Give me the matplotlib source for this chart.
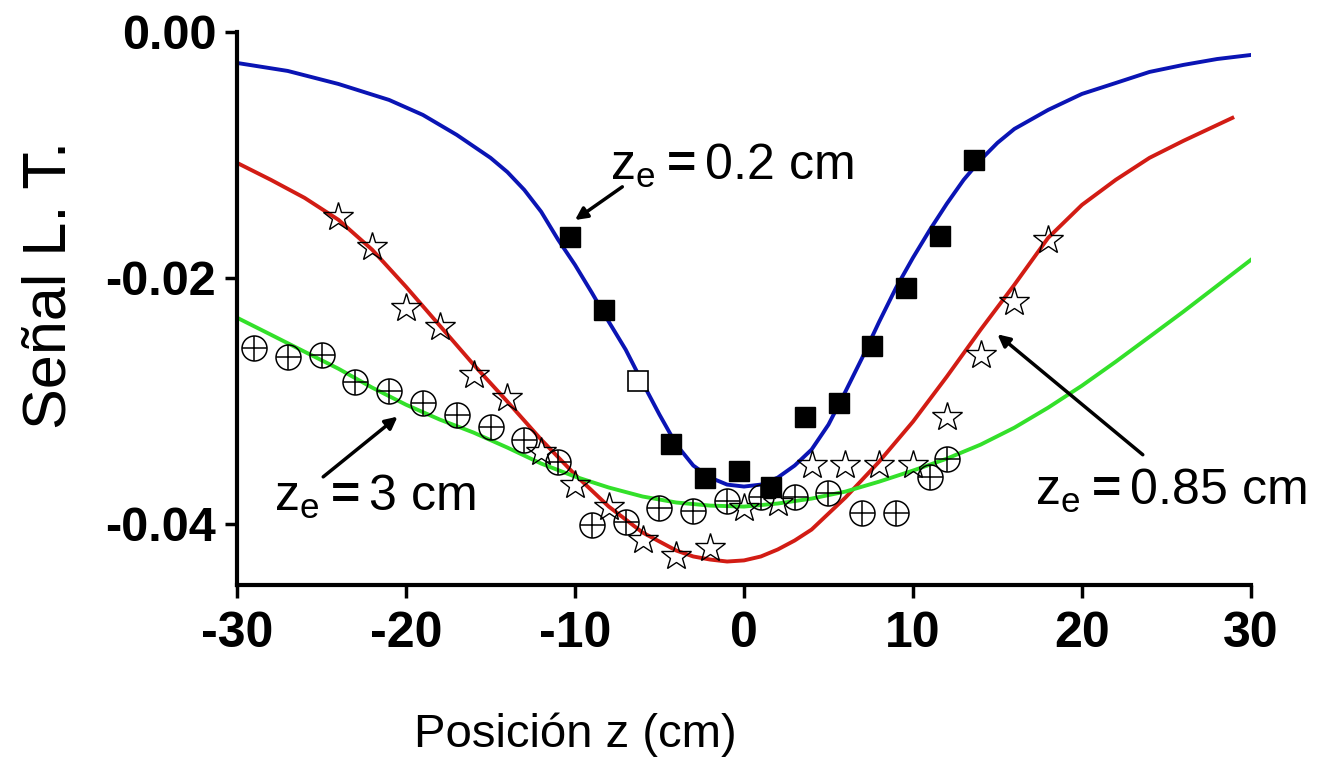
import matplotlib.pyplot as plt
from matplotlib.ticker import FormatStrFormatter

plt.rcParams['font.family'] = ['Liberation Sans', 'DejaVu Sans']
plt.rcParams['axes.unicode_minus'] = False
plt.rcParams['mathtext.fontset'] = 'custom'
plt.rcParams['mathtext.rm'] = 'Liberation Sans'
plt.rcParams['mathtext.bf'] = 'Liberation Sans:bold'

# fitted curves
z_blue = [-30, -27, -24, -21, -19, -17, -15, -14, -13, -12, -11, -10, -9, -8, -7, -6, -5, -4, -3, -2, -1,
          0, 1, 2, 3, 4, 5, 6, 7, 8, 9, 10, 11, 12, 13, 14, 15, 16, 18, 20, 22, 24, 26, 28, 30]
s_blue = [-0.00252, -0.00317, -0.00423, -0.00553, -0.00675, -0.00837, -0.01024, -0.01140, -0.01285,
          -0.01463, -0.01690, -0.01895, -0.02122, -0.02358, -0.02585, -0.02854, -0.03114, -0.03358,
          -0.03528, -0.03626, -0.03683, -0.03699, -0.03683, -0.03626, -0.03528, -0.03398, -0.03195,
          -0.02927, -0.02650, -0.02358, -0.02081, -0.01837, -0.01610, -0.01398, -0.01203, -0.01041,
          -0.00902, -0.00789, -0.00634, -0.00504, -0.00415, -0.00325, -0.00268, -0.00220, -0.00187]

z_red = [-30, -28, -26, -24, -22, -20, -18, -16, -14, -12, -10, -8, -6, -4, -3, -2, -1, 0, 1, 2, 3,
         4, 6, 8, 10, 12, 14, 16, 18, 20, 22, 24, 26, 28.9]
s_red = [-0.01065, -0.01203, -0.01350, -0.01528, -0.01772, -0.02073, -0.02390, -0.02707, -0.03008,
         -0.03317, -0.03602, -0.03862, -0.04073, -0.04220, -0.04268, -0.04293, -0.04309, -0.04300,
         -0.04268, -0.04211, -0.04138, -0.04049, -0.03789, -0.03496, -0.03171, -0.02805, -0.02423,
         -0.02057, -0.01675, -0.01407, -0.01203, -0.01024, -0.00886, -0.00699]

z_green = [-30, -28, -26, -24, -22, -20, -18, -16, -14, -12, -10, -8, -6, -4, -2, 0, 2, 4, 6, 8,
           10, 12, 14, 16, 18, 20, 22, 24, 26, 28, 30]
s_green = [-0.02325, -0.02463, -0.02602, -0.02740, -0.02894, -0.03033, -0.03154, -0.03260, -0.03382,
           -0.03512, -0.03618, -0.03707, -0.03780, -0.03829, -0.03854, -0.03862, -0.03837, -0.03797,
           -0.03740, -0.03659, -0.03569, -0.03472, -0.03358, -0.03220, -0.03057, -0.02878, -0.02683,
           -0.02480, -0.02276, -0.02065, -0.01854]

# measured points
z_sq = [-10.3, -8.3, -4.3, -2.3, -0.3, 1.6, 3.6, 5.6, 7.6, 9.6, 11.6, 13.6]
s_sq = [-0.01667, -0.02260, -0.03350, -0.03626, -0.03569, -0.03699, -0.03130, -0.03016, -0.02553,
        -0.02081, -0.01659, -0.01041]
z_sq_open = [-6.3]
s_sq_open = [-0.02837]

z_star = [-24, -22, -20, -18, -16, -14, -12, -10, -8, -6, -4, -2, 0, 2, 4, 6, 8, 10, 12, 14, 16, 18]
s_star = [-0.01504, -0.01748, -0.02244, -0.02398, -0.02789, -0.02976, -0.03415, -0.03683, -0.03862,
          -0.04130, -0.04268, -0.04195, -0.03870, -0.03829, -0.03520, -0.03520, -0.03520, -0.03520,
          -0.03130, -0.02626, -0.02195, -0.01691]

z_circ = [-29, -27, -25, -23, -21, -19, -17, -15, -13, -11, -9, -7, -5, -3, -1, 1, 3, 5, 7, 9, 11, 12]
s_circ = [-0.02569, -0.02642, -0.02626, -0.02846, -0.02919, -0.03016, -0.03114, -0.03211, -0.03317,
          -0.03496, -0.04008, -0.03984, -0.03870, -0.03894, -0.03813, -0.03780, -0.03780, -0.03748,
          -0.03911, -0.03911, -0.03618, -0.03472]

x_ticks = [-30, -20, -10, 0, 10, 20, 30]
y_ticks = [0.0, -0.02, -0.04]

fig = plt.figure(figsize=(13.19, 7.67), dpi=100)
ax = fig.add_axes([0.1797, 0.2373, 0.7687, 0.7210])

ax.plot(z_blue, s_blue, color='#0a14b4', lw=2.8, zorder=2)
ax.plot(z_red, s_red, color='#d21c14', lw=2.8, zorder=2)
ax.plot(z_green, s_green, color='#33e02a', lw=2.8, zorder=2)

ax.plot(z_sq, s_sq, 's', color='black', ms=15, zorder=4)
ax.plot(z_sq_open, s_sq_open, 's', mfc='white', mec='black', mew=1.2, ms=14, zorder=4)
ax.plot(z_star, s_star, '*', mfc='none', mec='black', mew=1.0, ms=22, zorder=3)
ax.plot(z_circ, s_circ, 'o', mfc='none', mec='black', mew=1.1, ms=18, zorder=3)
ax.plot(z_circ, s_circ, '+', color='black', mew=1.1, ms=18, zorder=3)

ax.set_xlim(-30, 30)
ax.set_ylim(-0.045, 0.0)
ax.set_xticks(x_ticks)
ax.set_yticks(y_ticks)
ax.yaxis.set_major_formatter(FormatStrFormatter('%.2f'))
for side in ['top', 'right']:
    ax.spines[side].set_visible(False)
for side in ['left', 'bottom']:
    ax.spines[side].set_linewidth(3)
ax.tick_params(direction='out', length=9, width=2.5)
ax.tick_params(axis='x', pad=10)
ax.tick_params(axis='y', pad=6)
for lab in ax.get_yticklabels():
    lab.set_fontsize(35)
    lab.set_fontweight('bold')
for lab in ax.get_xticklabels():
    lab.set_fontsize(36)
    lab.set_fontweight('bold')

fig.text(50 / 1319, 1 - 285 / 767, 'Señal L. T.', rotation=90, ha='center', va='center', fontsize=44)
fig.text(575 / 1319, 1 - 735 / 767, 'Posición z (cm)', ha='center', va='center', fontsize=34)

arrow = dict(arrowstyle='-|>', color='black', lw=2.5, mutation_scale=18, shrinkA=0, shrinkB=0)
ax.annotate('', xy=(-10.0, -0.0153), xytext=(-7.2, -0.0126), arrowprops=arrow)
ax.annotate('', xy=(-20.5, -0.0313), xytext=(-24.9, -0.0362), arrowprops=arrow)
ax.annotate('', xy=(15.0, -0.0246), xytext=(23.6, -0.0344), arrowprops=arrow)

ax.text(-7.9, -0.0120, r'z$_\mathregular{e}\mathbf{=}$0.2 cm', fontsize=36, va='baseline')
ax.text(-27.8, -0.0390, r'z$_\mathregular{e}\mathbf{=}$3 cm', fontsize=36, va='baseline')
ax.text(17.2, -0.0385, r'z$_\mathregular{e}\mathbf{=}$0.85 cm', fontsize=36, va='baseline')

fig.savefig('out.png', dpi=100)
